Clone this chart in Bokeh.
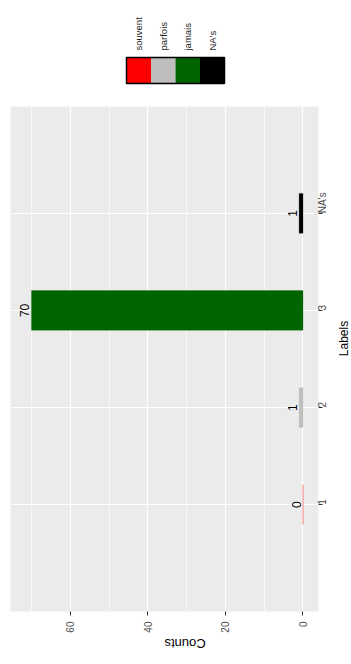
import math
from bokeh.plotting import figure
from bokeh.models import ColumnDataSource, FactorRange, Range1d, FixedTicker
from bokeh.layouts import column, row
from bokeh.embed import file_html
from bokeh.resources import INLINE
from bokeh.core.properties import value

# ---- data ----
categories = ["1", "2", "3", "NA's"]
counts = [0, 1, 70, 1]
bar_colors = ["#FF0000", "#BEBEBE", "#006400", "#000000"]
legend_labels = ["souvent", "parfois", "jamais", "NA's"]
value_ticks = [0, 20, 40, 60]
value_minor_ticks = [10, 30, 50, 70]
x_title = "Counts"
y_title = "Labels"

FONT = "Liberation Sans"
W = 351
MAIN_W = 336
MAIN_H = 566

# ---- legend (drawn above the panel, rotated like the reference) ----
leg = figure(width=W, height=98, x_range=Range1d(0, W), y_range=Range1d(0, 98),
             output_backend="svg", toolbar_location=None, min_border=0,
             x_axis_location=None, y_axis_location=None)
leg.grid.visible = False
leg.outline_line_color = None
key_w = 24.5
key_x0 = 126
n = len(legend_labels)
xs = [key_x0 + key_w * (i + 0.5) for i in range(n)]
leg.rect(x=xs, y=28, width=key_w, height=26, fill_color=bar_colors, line_color=None)
leg.rect(x=key_x0 + key_w * n / 2, y=28, width=key_w * n, height=26,
         fill_color=None, line_color="black", line_width=1.5)
leg.text(x=xs, y=48, text=legend_labels, angle=math.pi / 2, text_align="left",
         text_baseline="middle", text_font=value(FONT), text_font_size="9.5px",
         text_color="#1a1a1a")

# ---- main panel ----
p = figure(width=MAIN_W, height=MAIN_H, x_range=Range1d(75.4, -4.0),
           y_range=FactorRange(factors=categories, range_padding=0.3),
           y_axis_location="right", output_backend="svg", toolbar_location=None,
           min_border_left=10, min_border_right=MAIN_W - 320, min_border_top=8,
           min_border_bottom=53)
p.background_fill_color = "#EBEBEB"
p.border_fill_color = "white"
p.outline_line_color = None

src = ColumnDataSource(dict(cat=categories, count=counts, color=bar_colors,
                            lbl=[str(c) for c in counts]))
p.hbar(y="cat", left=0, right="count", height=0.41, fill_color="color",
       line_color="color", line_alpha=0.25, source=src)
p.text(x="count", y="cat", text="lbl", angle=math.pi / 2, text_align="center",
       text_baseline="bottom", x_offset=-2, text_font=value(FONT),
       text_font_size="12px", text_color="black", source=src)

# axes
p.xaxis.ticker = FixedTicker(ticks=value_ticks)
p.xaxis.major_label_orientation = math.pi / 2
p.yaxis.major_label_orientation = math.pi / 2
for ax in (p.xaxis, p.yaxis):
    ax.axis_line_color = None
    ax.major_tick_line_color = "#333333"
    ax.major_tick_line_width = 1
    ax.major_tick_out = 4
    ax.major_tick_in = 0
    ax.minor_tick_line_color = None
    ax.major_label_text_font = FONT
    ax.major_label_text_font_size = "10px"
    ax.major_label_text_color = "#4D4D4D"
    ax.axis_label_text_font = FONT
    ax.axis_label_text_font_size = "13px"
    ax.axis_label_text_font_style = "normal"
    ax.axis_label_text_color = "black"
p.xaxis.major_label_standoff = 6
p.yaxis.major_label_standoff = 0
p.xaxis.axis_label = x_title
p.xaxis.axis_label_standoff = 8
xax = p.xaxis[0]
if "axis_label_orientation" in xax.properties():
    xax.axis_label_orientation = math.pi

# grid
p.xgrid.ticker = FixedTicker(ticks=value_ticks, minor_ticks=value_minor_ticks)
p.xgrid.grid_line_color = "white"
p.xgrid.grid_line_width = 1.2
p.xgrid.minor_grid_line_color = "white"
p.xgrid.minor_grid_line_width = 0.6
p.ygrid.grid_line_color = "white"
p.ygrid.grid_line_width = 1.2

# ---- right-hand axis title strip ----
lab_w = W - MAIN_W
lab = figure(width=lab_w, height=MAIN_H, x_range=Range1d(0, lab_w), y_range=Range1d(0, MAIN_H),
             output_backend="svg", toolbar_location=None, min_border=0,
             x_axis_location=None, y_axis_location=None)
lab.grid.visible = False
lab.outline_line_color = None
lab.text(x=[lab_w / 2], y=[306], text=[y_title], angle=math.pi / 2, text_align="center",
         text_baseline="middle", text_font=value(FONT), text_font_size="12px",
         text_color="black")

layout = column(leg, row(p, lab))
open("out.html", "w").write(file_html(layout, INLINE))
